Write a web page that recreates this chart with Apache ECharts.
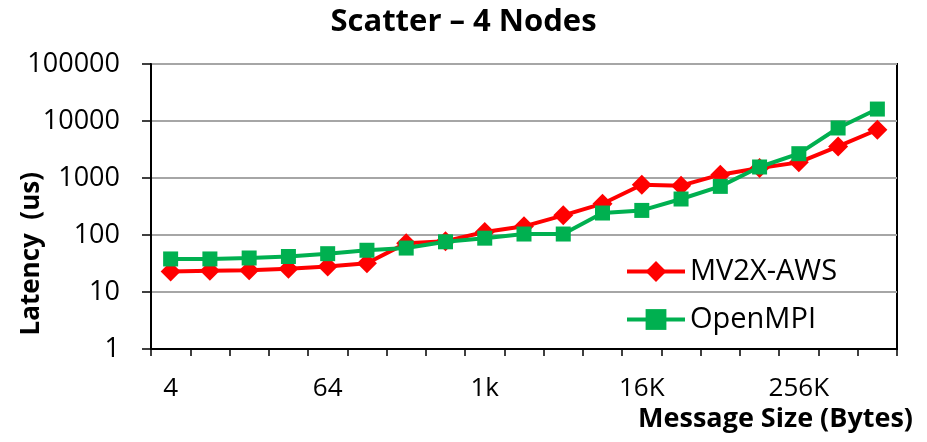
<!DOCTYPE html>
<html>
<head>
<meta charset="utf-8">
<script src="https://cdn.jsdelivr.net/npm/echarts@6/dist/echarts.min.js"></script>
<style>
  html, body { margin: 0; padding: 0; background: #fff; }
  #chart { width: 927px; height: 442px; }
</style>
</head>
<body>
<div id="chart"></div>
<script>
const sizes = ["4", "8", "16", "32", "64", "128", "256", "512", "1k", "2k", "4k", "8k",
  "16K", "32K", "64K", "128K", "256K", "512K", "1M"];
const mv2xAws = [23, 23.5, 24, 25.5, 28, 32, 72, 78, 113, 142, 221, 354, 763, 733, 1143, 1497, 1880, 3580, 7030];
const openMpi = [38, 38, 39.5, 42, 47, 54, 59, 76, 88, 104, 104, 243, 270, 428, 713, 1560, 2670, 7540, 16200];

const font = "Open Sans";
const chart = echarts.init(document.getElementById("chart"));

const option = {
  animation: false,
  title: {
    text: "Scatter \u2013 4 Nodes",
    left: "center",
    top: 2,
    textStyle: { fontFamily: font, fontWeight: "bold", fontSize: 31, color: "#000" },
  },
  grid: {
    left: 151, right: 30, top: 64, bottom: 93,
    show: true, borderColor: "#000", borderWidth: 2,
  },
  legend: {
    orient: "vertical",
    left: 620, top: 252,
    itemWidth: 58, itemHeight: 26, itemGap: 19,
    lineStyle: { width: 4 },
    textStyle: { fontFamily: font, fontSize: 29, color: "#000" },
    data: ["MV2X-AWS", "OpenMPI"],
  },
  xAxis: {
    type: "category",
    data: sizes,
    boundaryGap: true,
    axisLine: { lineStyle: { color: "#000", width: 2 } },
    axisTick: { show: true, interval: 0, length: 7, lineStyle: { color: "#000", width: 1.5 } },
    axisLabel: { interval: 3, margin: 27, fontFamily: font, fontSize: 26, color: "#000" },
    splitLine: { show: false },
  },
  yAxis: {
    type: "log",
    logBase: 10,
    min: 1, max: 100000,
    axisLine: { show: true, lineStyle: { color: "#000", width: 2 } },
    axisTick: { show: true, length: 9, lineStyle: { color: "#000", width: 1.5 } },
    axisLabel: {
      margin: 31, fontFamily: font, fontSize: 27, color: "#000",
      formatter: (v) => String(v),
    },
    splitLine: { lineStyle: { color: "#a6a6a6", width: 2 } },
    minorTick: { show: false },
  },
  graphic: [
    {
      type: "text",
      left: 19, top: 172,
      rotation: Math.PI / 2,
      style: { text: "Latency  (us)", font: "bold 26px 'Open Sans'", fill: "#000" },
    },
    {
      type: "text",
      right: 14, top: 406,
      style: { text: "Message Size (Bytes)", font: "bold 27px 'Open Sans'", fill: "#000" },
    },
  ],
  series: [
    {
      name: "MV2X-AWS",
      type: "line",
      data: mv2xAws,
      symbol: "diamond",
      symbolSize: 20,
      lineStyle: { color: "#ff0000", width: 4 },
      itemStyle: { color: "#ff0000" },
      z: 3,
    },
    {
      name: "OpenMPI",
      type: "line",
      data: openMpi,
      symbol: "rect",
      symbolSize: 15,
      lineStyle: { color: "#00b050", width: 4 },
      itemStyle: { color: "#00b050" },
      z: 4,
    },
  ],
};

chart.setOption(option);
</script>
</body>
</html>
